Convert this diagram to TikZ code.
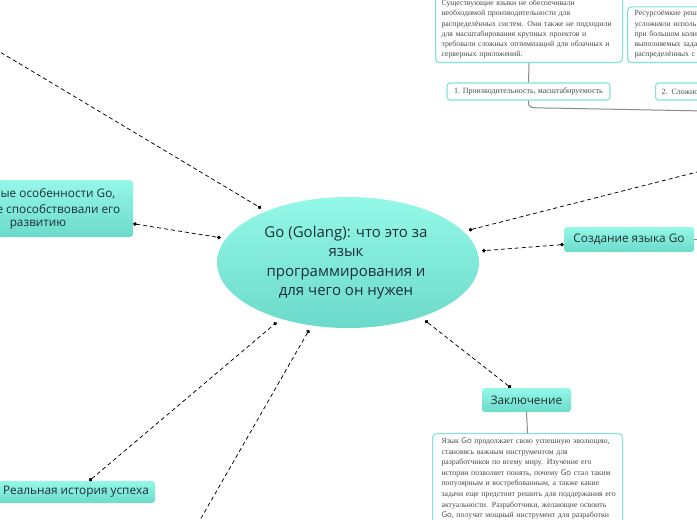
\documentclass[tikz,border=0pt]{standalone}
\usepackage{fontspec}
\setmainfont{Liberation Serif}
\newfontfamily\osans{Open Sans}
\usetikzlibrary{arrows.meta,shapes.geometric}
\definecolor{cyT}{HTML}{94F8E8}
\definecolor{cyB}{HTML}{6CDACA}
\definecolor{bord}{HTML}{7FE6D6}
\definecolor{ink}{HTML}{1E2F38}
\definecolor{gtext}{HTML}{4A4A4A}
\definecolor{treeline}{HTML}{8A8A8A}
\newcommand{\txtline}[1]{\mbox{#1}}
\tikzset{
  topic/.style={rectangle, rounded corners=3pt, top color=cyT, bottom color=cyB,
    font=\osans\fontsize{11.8}{14}\selectfont, text=ink, inner sep=0pt},
  kftext/.style={font=\osans\fontsize{11.8}{14}\selectfont, text=ink, inner sep=0pt},
  textbox/.style={draw=bord, line width=1.1pt, rounded corners=4pt, fill=white,
    font=\fontsize{7.8}{10.2}\selectfont, text=gtext, align=left, inner ysep=4pt},
  subbox/.style={draw=bord, line width=1.1pt, rounded corners=3pt, fill=white,
    font=\fontsize{8}{10}\selectfont, text=gtext, inner sep=0pt, minimum height=17pt},
  tree/.style={draw=treeline, line width=1pt},
  conn/.style={draw=black, line width=0.75pt, dash pattern=on 4pt off 3pt},
  dot/.tip={Circle[length=3.6pt]}
}
\begin{document}
\begin{tikzpicture}[x=1pt,y=-1pt]
\useasboundingbox (0,0) rectangle (697,520);

% central topic
\node[ellipse, top color=cyT, bottom color=cyB, minimum width=262pt, minimum height=131pt,
  inner sep=0pt, outer sep=5pt, font=\osans\fontsize{15}{19.5}\selectfont, text=ink, align=center]
  (c) at (348,262.5) {\hspace*{-4pt}Go (Golang): что это за\\\hspace*{-4pt}язык\\\hspace*{-4pt}программирования и\\\hspace*{-4pt}для чего он нужен};

% main topics
\node[topic, minimum width=190pt, minimum height=57pt] (kf) at (38,208.5) {};
\node[kftext, anchor=east] (kf1) at (115.5,194) {ые особенности Go,};
\node[kftext, anchor=east] (kf2) at (120.5,209.5) {е способствовали его};
\node[kftext] (kf3) at (38,225) {развитию};

\node[topic, minimum width=130pt, minimum height=25pt] (cr) at (629,239.5) {Создание языка Go};
\node[topic, minimum width=89pt, minimum height=24pt] (zk) at (526.5,400) {Заключение};
\node[topic, minimum width=158pt, minimum height=22pt] (rh) at (76,492) {Реальная история успеха};

% top text boxes
\node[textbox, anchor=south west, text width=175pt, inner xsep=6pt] (t1) at (435,63)
  {\txtline{Существующие языки не обеспечивали}\\\txtline{необходимой производительности для}\\\txtline{распределённых систем. Они также не подходили}\\\txtline{для масштабирования крупных проектов и}\\\txtline{требовали сложных оптимизаций для облачных и}\\\txtline{серверных приложений.}};
\node[textbox, anchor=south west, text width=130pt, inner xsep=7pt] (t2) at (627,63)
  {\txtline{Ресурсоёмкие реш}\\\txtline{усложняли исполь}\\\txtline{при большом коли}\\\txtline{выполняемых зада}\\\txtline{распределённых с}};
\node[subbox, minimum width=163pt] (n1) at (528.5,91.5) {1. Производительность, масштабируемость};
\node[subbox, anchor=west, text width=88pt, align=left, inner xsep=6pt] (n2) at (655,91.5) {2. Сложно};

% conclusion text
\node[textbox, anchor=north west, text width=172pt, inner xsep=9pt, inner ysep=4.5pt,
  font=\fontsize{7.8}{10.55}\selectfont] (t3) at (432,433)
  {\txtline{Язык {\osans Go} продолжает свою успешную эволюцию,}\\\txtline{становясь важным инструментом для}\\\txtline{разработчиков по всему миру. Изучение его}\\\txtline{истории позволяет понять, почему {\osans Go} стал таким}\\\txtline{популярным и востребованным, а также какие}\\\txtline{задачи еще предстоит решить для поддержания его}\\\txtline{актуальности. Разработчики, желающие освоить}\\\txtline{{\osans Go}, получат мощный инструмент для разработки}\\\mbox{}\\\mbox{}};

% tree lines
\coordinate (trR) at (705,111);
\coordinate (crR) at (705,239.5);
\draw[tree] (t1.south) -- (n1.north);
\draw[tree] (n1.south) .. controls (528.5,108) .. (548,108) -- (trR);
\draw[tree] (cr.east) -- (crR);
\draw[tree] (zk.south) -- (t3.north);

% dashed connectors
\coordinate (tlF) at (-5,49);
\coordinate (trF) at (705,170);
\coordinate (bF) at (196,527);
\draw[conn, -dot] (tlF) -- (c.148);
\draw[conn, dot-dot] (kf) -- (c.169);
\draw[conn, dot-dot] (cr) -- (c.5);
\draw[conn, dot-] (c.15.4) -- (trF);
\draw[conn, dot-dot] (zk) -- (c.-37);
\draw[conn, dot-] (c.-120) -- (bF);
\draw[conn, dot-dot] (rh) -- (c.-140);
\end{tikzpicture}
\end{document}
